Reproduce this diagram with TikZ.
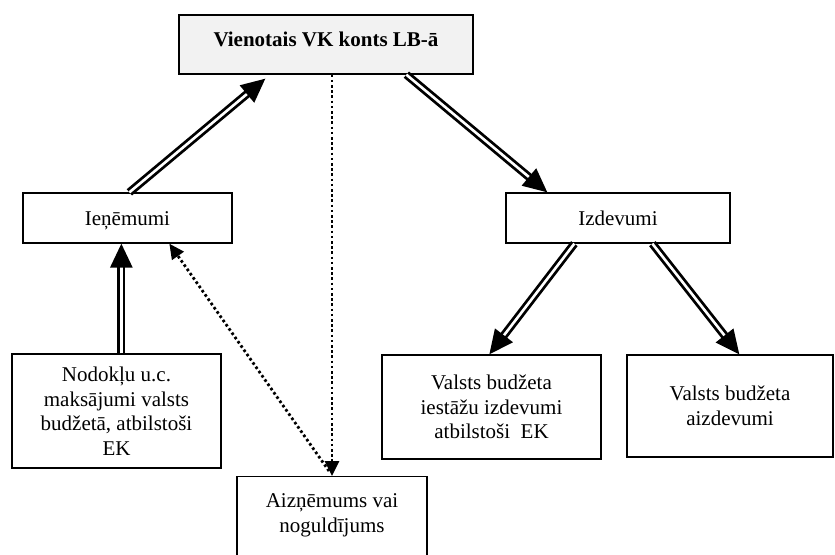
\documentclass[tikz,border=0pt]{standalone}
\usepackage{fontspec}
\setmainfont{Liberation Serif}
\usetikzlibrary{arrows.meta,calc}
\definecolor{boxgray}{HTML}{F2F2F2}
\begin{document}
\begin{tikzpicture}[x=1pt,y=-1pt,
  txt/.style={font=\fontsize{21}{24.5}\selectfont},
  box/.style={draw, line width=1.3pt, align=center, inner sep=2pt, txt},
  flow/.style={draw=black, double=white, double distance=2.6pt, line width=2.8pt,
    -{Triangle[length=24pt,width=22pt]}},
  link/.style={draw=black, line width=2.8pt, dash pattern=on 2.6pt off 2.6pt,
    -{Triangle[length=15pt,width=14pt]}},
]
\useasboundingbox (0,0) rectangle (835,554);
\clip (0,0) rectangle (835,554);

% boxes
\node[box, fill=boxgray, minimum width=294pt, minimum height=59pt,
  font=\fontsize{21}{24.5}\selectfont\bfseries, text height=14.5pt, text depth=10pt]
  (vk) at (326,44.5) {Vienotais VK konts LB-ā};
\node[box, minimum width=209pt, minimum height=50pt, text height=14.5pt, text depth=0pt]
  (ien) at (127.5,218) {Ieņēmumi};
\node[box, minimum width=224pt, minimum height=50pt, text height=14.5pt, text depth=0pt]
  (izd) at (618,218) {Izdevumi};
\node[box, minimum width=209pt, minimum height=114pt]
  (nod) at (116.5,411) {Nodokļu u.c.\\maksājumi valsts\\budžetā, atbilstoši\\EK};
\node[box, minimum width=219pt, minimum height=104pt]
  (ies) at (491.5,407) {Valsts budžeta\\iestāžu izdevumi\\atbilstoši~ EK};
\node[box, minimum width=206pt, minimum height=102pt]
  (aizd) at (730,406) {Valsts budžeta\\aizdevumi};
\node[box, anchor=north, minimum width=190pt, inner ysep=0pt,
  text height=31pt, text depth=100pt]
  (aiz) at (332,476) {\begin{tabular}[t]{@{}c@{}}Aizņēmums vai\\noguldījums\end{tabular}};

% money flows
\draw[flow] ($(ien.north west)+(107,0)$) -- ($(vk.south west)+(87,4)$);
\draw[flow] ($(vk.south west)+(228,0)$) -- ($(izd.north west)+(42,0)$);
\draw[flow] ($(nod.north west)+(110,0)$) -- ($(ien.south west)+(99,0)$);
\draw[flow] ($(izd.south west)+(69,0)$) -- ($(ies.north west)+(108,0)$);
\draw[flow] ($(izd.south west)+(147,0)$) -- ($(aizd.north west)+(113,0)$);

% borrowing / deposit links
\draw[link] (vk.south -| aiz.north) -- (aiz.north);
\draw[link] ($(aiz.north)+(-3,-5)$) -- ($(ien.south west)+(147,0)$);
\end{tikzpicture}
\end{document}
